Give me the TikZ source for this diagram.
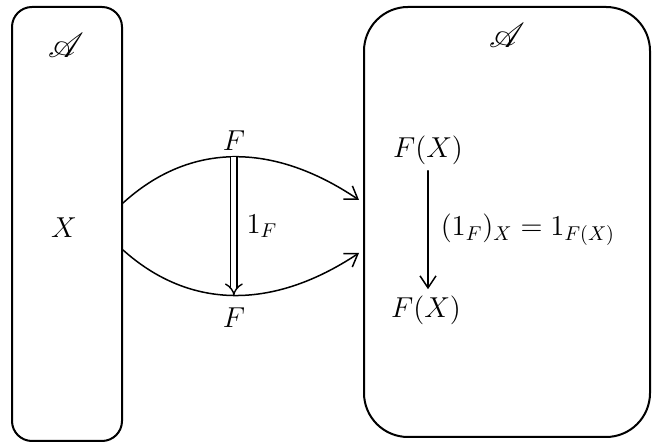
\documentclass[tikz,border=0pt]{standalone}
\usepackage{amsmath,amssymb}
\usepackage{mathrsfs}
\usetikzlibrary{arrows.meta,positioning,calc}

\begin{document}
\begin{tikzpicture}[x=.5pt,y=.5pt,>={Straight Barb[length=6pt,width=8pt]}]
\tikzset{
cat/.style={draw=black,line width=1pt,inner sep=0pt},
lbl/.style={font=\fontsize{14.5}{17}\selectfont,inner sep=2pt},
catname/.style={font=\fontsize{19}{22}\selectfont,inner sep=2pt},
flow/.style={->,draw=black,line width=.75pt,line cap=round,line join=round},
twocell/.style={-Implies,double,double distance=2.4pt,line width=.7pt}
}
\useasboundingbox (0,0) rectangle (662,448);

% categories
\node[cat,rounded corners=10pt,minimum width=55pt,minimum height=217pt] (Lcat) at (67,224) {};
\node[cat,rounded corners=22pt,minimum width=143pt,minimum height=215pt] (Rcat) at (507,226) {};
\node[catname] (LA) at (66,403) {$\mathscr{A}$};
\node[catname] (RA) at (507,413) {$\mathscr{A}$};
\node[lbl] (X) at (64,220) {$X$};

% the two parallel functors
\coordinate (uS) at ($(Lcat.east)+(0,21)$);
\coordinate (lS) at ($(Lcat.east)+(0,-26)$);
\coordinate (uE) at ($(Rcat.west)+(-4,22)$);
\coordinate (lE) at ($(Rcat.west)+(-4,-31)$);
\draw[flow] (uS) .. controls (190,306) and (273,306) .. coordinate[pos=.5] (uMid) (uE);
\draw[flow] (lS) .. controls (190,138) and (273,138) .. coordinate[pos=.5] (lMid) (lE);
\node[lbl,above=1pt of uMid] (topF) {$F$};
\node[lbl,below=4pt of lMid] (botF) {$F$};
\draw[twocell] (uMid) -- node[lbl,right=4pt] (idF) {$1_F$} (lMid);

% component at X
\node[lbl] (FXtop) at (428,298) {$F(X)$};
\node[lbl] (FXbot) at (426,138) {$F(X)$};
\draw[flow] ($(FXtop.south)+(0,-2)$) -- node[lbl,right=4pt] (comp) {$(1_F)_X=1_{F(X)}$} ($(FXbot.north)+(2,2)$);
\end{tikzpicture}
\end{document}
